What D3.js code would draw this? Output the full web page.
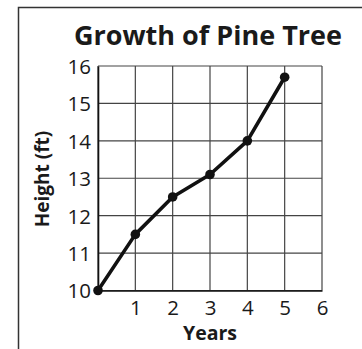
<!DOCTYPE html>
<html>
<head>
<meta charset="utf-8">
<script src="https://cdn.jsdelivr.net/npm/d3@7"></script>
<style>
  html, body { margin: 0; padding: 0; background: #fff; }
  svg { display: block; }
  text { font-family: "Open Sans", "Noto Sans", sans-serif; fill: #1a1a1a; }
</style>
</head>
<body>
<script>
// Pine tree height by year
const years = [0, 1, 2, 3, 4, 5];
const heights = [10, 11.5, 12.5, 13.1, 14, 15.7];
const xTicks = [1, 2, 3, 4, 5, 6];
const yTicks = [10, 11, 12, 13, 14, 15, 16];

const W = 362, H = 349;
const svg = d3.select("body").append("svg").attr("width", W).attr("height", H);

// outer frame (open at right and bottom)
svg.append("path")
  .attr("d", "M18.5,349 L18.5,7.5 L362,7.5")
  .attr("fill", "none").attr("stroke", "#333").attr("stroke-width", 1.5);

const x = d3.scaleLinear().domain([0, 6]).range([98, 322]);
const y = d3.scaleLinear().domain([10, 16]).range([290.5, 66]);

// grid
const grid = svg.append("g").attr("stroke", "#444").attr("stroke-width", 1.2);
grid.selectAll("line.v").data(d3.range(0, 7)).join("line")
  .attr("x1", d => x(d)).attr("x2", d => x(d))
  .attr("y1", y(10)).attr("y2", y(16));
grid.selectAll("line.h").data(yTicks).join("line")
  .attr("x1", x(0)).attr("x2", x(6))
  .attr("y1", d => y(d)).attr("y2", d => y(d));

// axes: labels only, tick marks hidden
const xAxis = svg.append("g").attr("transform", `translate(0,${y(10)})`)
  .call(d3.axisBottom(x).tickValues(xTicks).tickFormat(d3.format("d")).tickSize(0).tickPadding(10));
const yAxis = svg.append("g").attr("transform", `translate(${x(0)},0)`)
  .call(d3.axisLeft(y).tickValues(yTicks).tickFormat(d3.format("d")).tickSize(0).tickPadding(7));
[xAxis, yAxis].forEach(a => {
  a.select(".domain").attr("stroke", "#111").attr("stroke-width", 1.6);
  a.selectAll("text").attr("font-size", 20.5).attr("font-family", '"Open Sans", sans-serif').attr("fill", "#1a1a1a");
});
yAxis.selectAll("text").attr("dy", "0.36em");

// title and axis titles
svg.append("text").attr("x", 208).attr("y", 45).attr("text-anchor", "middle")
  .attr("font-size", 27).attr("font-weight", 700).text("Growth of Pine Tree");
svg.append("text").attr("x", 210).attr("y", 340).attr("text-anchor", "middle")
  .attr("font-size", 19.5).attr("font-weight", 700).text("Years");
svg.append("text").attr("transform", "translate(49,179) rotate(-90)")
  .attr("text-anchor", "middle").attr("font-size", 19).attr("font-weight", 700)
  .text("Height (ft)");

// series line and points
const pts = years.map((d, i) => [d, heights[i]]);
svg.append("path").datum(pts)
  .attr("fill", "none").attr("stroke", "#111").attr("stroke-width", 3.6)
  .attr("stroke-linejoin", "round")
  .attr("d", d3.line().x(d => x(d[0])).y(d => y(d[1])));
svg.selectAll("circle.pt").data(pts).join("circle")
  .attr("cx", d => x(d[0])).attr("cy", d => y(d[1])).attr("r", 4.8)
  .attr("fill", "#111");
</script>
</body>
</html>
